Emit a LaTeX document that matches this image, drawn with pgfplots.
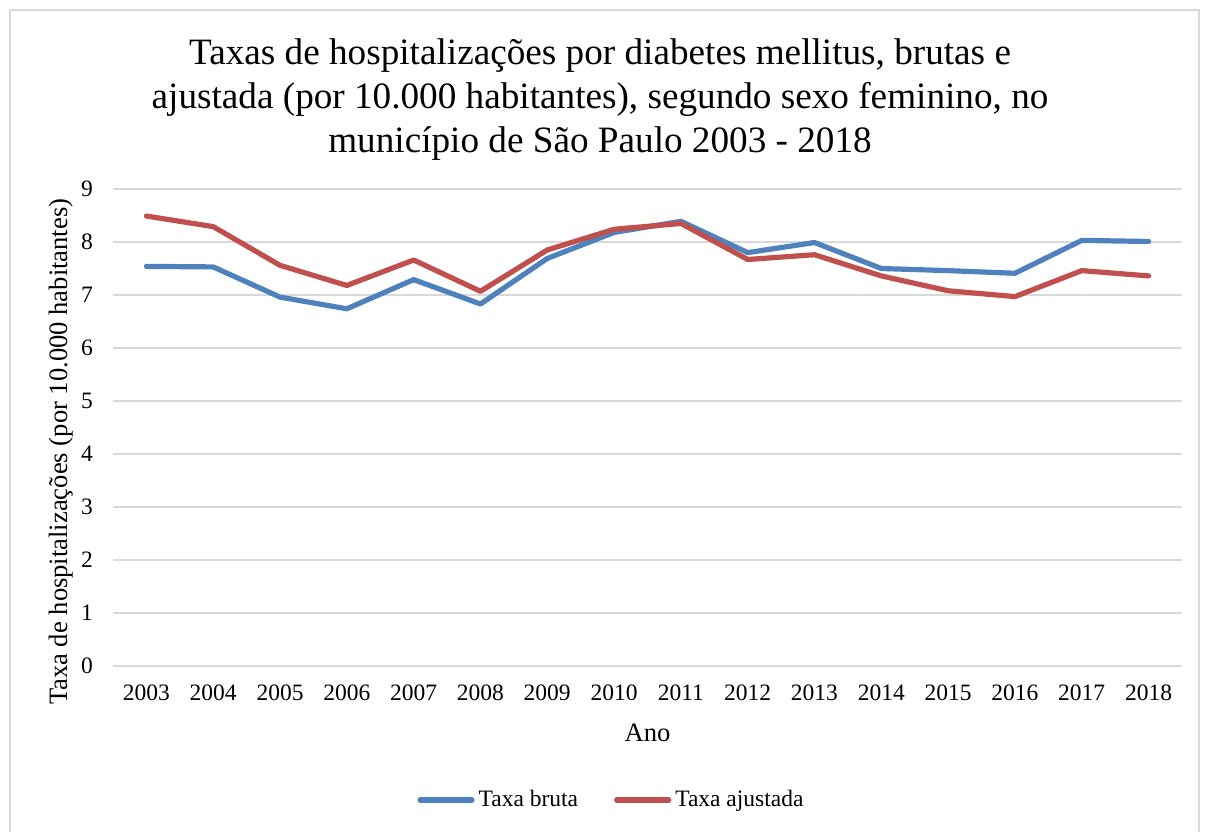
\documentclass[border=0pt]{standalone}
\usepackage{fontspec}
\setmainfont{Liberation Serif}
\usepackage{pgfplots}
\pgfplotsset{compat=1.18}
\definecolor{cblue}{HTML}{4F81BD}
\definecolor{cred}{HTML}{C0504D}
\definecolor{cgrid}{HTML}{D9D9D9}
\begin{document}
\begin{tikzpicture}
\useasboundingbox (-56.5pt,-82.5pt) rectangle (548pt,333pt);
\draw[cgrid, line width=0.6pt] (-51.5pt,-95pt) rectangle (543pt,328pt);
\begin{axis}[
  at={(0,0)}, anchor=south west,
  scale only axis,
  width=534.5pt, height=238.5pt,
  xmin=2002.5, xmax=2018.5,
  ymin=0, ymax=9,
  xtick={2003,...,2018},
  ytick={0,...,9},
  /pgf/number format/assume math mode=true,
  xticklabel={\pgfmathprintnumber[1000 sep={}]{\tick}},
  x tick label style={font=\fontsize{11.75pt}{13pt}\selectfont, yshift=-6pt},
  y tick label style={font=\fontsize{11.75pt}{13pt}\selectfont, xshift=-6.5pt},
  major tick length=0pt,
  axis line style={draw=none},
  axis x line*=bottom,
  ymajorgrids, grid style={cgrid, line width=0.8pt},
  xlabel={Ano},
  xlabel style={font=\fontsize{13.3pt}{15pt}\selectfont, at={(axis description cs:0.5,-0.14)}, anchor=center},
  ylabel={Taxa de hospitalizações (por 10.000 habitantes)},
  ylabel style={font=\fontsize{13.3pt}{15pt}\selectfont, at={(axis description cs:-0.0486,0.449)}, anchor=center, rotate=0},
  title={Taxas de hospitalizações por diabetes mellitus, brutas e\\ajustada (por 10.000 habitantes), segundo sexo feminino, no\\município de São Paulo 2003 - 2018},
  title style={font=\fontsize{18.6pt}{22pt}\selectfont, align=center, at={(axis description cs:0.4556,1.162)}, anchor=center},
  legend style={at={(axis description cs:0.4672,-0.281)}, anchor=center, draw=none, legend columns=2, font=\fontsize{11.75pt}{13pt}\selectfont, /tikz/every even column/.append style={column sep=16pt}},
  legend image code/.code={\draw[#1, line cap=round] (0pt,0pt) -- (26pt,0pt);},
  clip=false,
]
\draw[cgrid, line width=0.8pt] (axis cs:2002.5,0) -- (axis cs:2018.5,0);
\addplot[cblue, line width=2.6pt, line join=round, line cap=round] coordinates {
(2003,7.54) (2004,7.53) (2005,6.96) (2006,6.74) (2007,7.29) (2008,6.83) (2009,7.69) (2010,8.18)
(2011,8.39) (2012,7.80) (2013,7.99) (2014,7.50) (2015,7.46) (2016,7.41) (2017,8.03) (2018,8.01)};
\addlegendentry{Taxa bruta}
\addplot[cred, line width=2.6pt, line join=round, line cap=round] coordinates {
(2003,8.49) (2004,8.29) (2005,7.56) (2006,7.18) (2007,7.66) (2008,7.07) (2009,7.85) (2010,8.24)
(2011,8.35) (2012,7.67) (2013,7.76) (2014,7.36) (2015,7.08) (2016,6.97) (2017,7.46) (2018,7.36)};
\addlegendentry{Taxa ajustada}
\end{axis}
\end{tikzpicture}
\end{document}
